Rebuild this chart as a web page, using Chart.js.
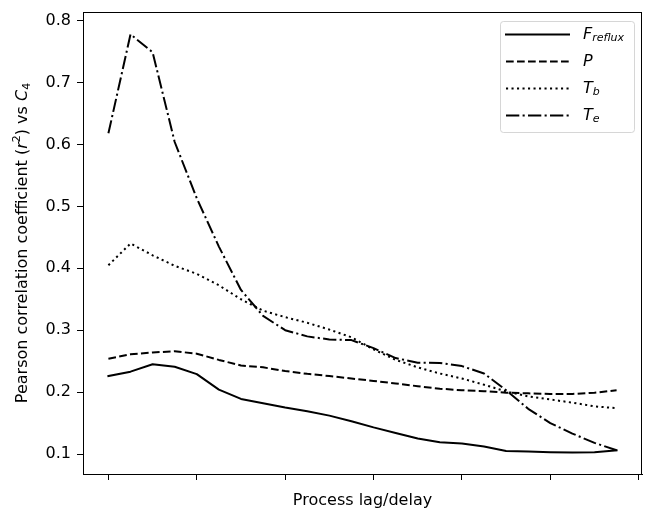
<!DOCTYPE html>
<html>
<head>
<meta charset="utf-8">
<script src="https://cdn.jsdelivr.net/npm/chart.js@4.4.1/dist/chart.umd.min.js"></script>
<style>
    body { margin: 0; background: #fff; }
    #wrap { width: 646px; height: 512px; }
</style>
</head>
<body>
<div id="wrap"><canvas id="myChart" width="646" height="512"></canvas></div>
<script>
// lag index (tick marks only, no labels in the original)
const lags = [0, 1, 2, 3, 4, 5, 6, 7, 8, 9, 10, 11, 12, 13, 14, 15, 16, 17, 18, 19, 20, 21, 22, 23];
const xTicks = [0, 4, 8, 12, 16, 20, 24];
const yTicks = [0.1, 0.2, 0.3, 0.4, 0.5, 0.6, 0.7, 0.8];

// r^2 vs C4 for each variable
const fReflux = [0.226, 0.233, 0.245, 0.241, 0.229, 0.204, 0.189, 0.182, 0.175, 0.169, 0.162, 0.153,
                 0.143, 0.134, 0.125, 0.119, 0.117, 0.112, 0.105, 0.104, 0.103, 0.1025, 0.103, 0.106];
const pres = [0.254, 0.261, 0.264, 0.266, 0.262, 0.252, 0.243, 0.240, 0.234, 0.2295, 0.226, 0.222,
              0.218, 0.214, 0.2095, 0.2055, 0.203, 0.2015, 0.199, 0.198, 0.197, 0.197, 0.199, 0.203];
const tBottom = [0.405, 0.440, 0.421, 0.404, 0.391, 0.3725, 0.350, 0.3315, 0.321, 0.312, 0.301, 0.2885,
                 0.269, 0.252, 0.240, 0.230, 0.222, 0.212, 0.201, 0.193, 0.188, 0.183, 0.177, 0.174];
const tEnd = [0.618, 0.778, 0.749, 0.604, 0.513, 0.435, 0.365, 0.323, 0.300, 0.290, 0.285, 0.284,
              0.271, 0.255, 0.2475, 0.247, 0.242, 0.230, 0.203, 0.173, 0.150, 0.133, 0.118, 0.106];

const FONT = '"DejaVu Sans", sans-serif';

function toPoints(values) {
    return values.map((v, i) => ({ x: lags[i], y: v }));
}

const series = [
    { data: fReflux, dash: [], cap: 'square', label: ['F', 'reflux'] },
    { data: pres, dash: [7.7, 3.3], cap: 'butt', label: ['P', ''] },
    { data: tBottom, dash: [2.1, 3.4], cap: 'butt', label: ['T', 'b'] },
    { data: tEnd, dash: [13.3, 3.3, 2.1, 3.3], cap: 'butt', label: ['T', 'e'] }
];

// draws frame, axis titles and the legend (math-style labels need mixed fonts)
const decorations = {
    id: 'decorations',
    afterDraw(chart) {
        const ctx = chart.ctx;
        const area = chart.chartArea;
        ctx.save();

        // frame
        ctx.strokeStyle = '#000';
        ctx.lineWidth = 1;
        ctx.setLineDash([]);
        ctx.strokeRect(Math.round(area.left) + 0.5, Math.round(area.top) + 0.5,
            Math.round(area.right - area.left) - 1, Math.round(area.bottom - area.top));

        // x title
        ctx.fillStyle = '#000';
        ctx.font = '16px ' + FONT;
        ctx.textAlign = 'center';
        ctx.textBaseline = 'middle';
        ctx.fillText('Process lag/delay', (area.left + area.right) / 2, 501);

        // y title
        const runs = [
            { t: 'Pearson correlation coefficient (', f: '16px ' + FONT, dy: 0 },
            { t: 'r', f: 'italic 16px ' + FONT, dy: 0 },
            { t: '2', f: '11px ' + FONT, dy: -6 },
            { t: ') vs ', f: '16px ' + FONT, dy: 0 },
            { t: 'C', f: 'italic 16px ' + FONT, dy: 0 },
            { t: '4', f: '11px ' + FONT, dy: 4 }
        ];
        let total = 0;
        runs.forEach(r => { ctx.font = r.f; r.w = ctx.measureText(r.t).width; total += r.w; });
        ctx.translate(23, (area.top + area.bottom) / 2);
        ctx.rotate(-Math.PI / 2);
        ctx.textAlign = 'left';
        let px = -total / 2;
        runs.forEach(r => {
            ctx.font = r.f;
            ctx.fillText(r.t, px, r.dy);
            px += r.w;
        });
        ctx.setTransform(1, 0, 0, 1, 0, 0);

        // legend
        const lx = 500.5, ly = 21.5, lw = 134, lh = 111, rad = 3;
        ctx.beginPath();
        ctx.moveTo(lx + rad, ly);
        ctx.arcTo(lx + lw, ly, lx + lw, ly + lh, rad);
        ctx.arcTo(lx + lw, ly + lh, lx, ly + lh, rad);
        ctx.arcTo(lx, ly + lh, lx, ly, rad);
        ctx.arcTo(lx, ly, lx + lw, ly, rad);
        ctx.closePath();
        ctx.fillStyle = 'rgba(255,255,255,0.8)';
        ctx.fill();
        ctx.strokeStyle = 'rgba(204,204,204,0.8)';
        ctx.stroke();

        const rows = [34.5, 61.5, 88.5, 115.5];
        series.forEach((s, k) => {
            const y = rows[k];
            ctx.beginPath();
            ctx.strokeStyle = '#000';
            ctx.lineWidth = 2;
            ctx.lineCap = s.cap;
            ctx.setLineDash(s.dash);
            ctx.moveTo(506, y);
            ctx.lineTo(569, y);
            ctx.stroke();
            ctx.setLineDash([]);

            ctx.fillStyle = '#000';
            ctx.textBaseline = 'middle';
            ctx.textAlign = 'left';
            ctx.font = 'italic 16px ' + FONT;
            ctx.fillText(s.label[0], 583, y);
            const w = ctx.measureText(s.label[0]).width;
            if (s.label[1]) {
                ctx.font = 'italic 11px ' + FONT;
                ctx.fillText(s.label[1], 583 + w, y + 4);
            }
        });
        ctx.restore();
    }
};

const ctx = document.getElementById('myChart').getContext('2d');
new Chart(ctx, {
    type: 'line',
    data: {
        datasets: series.map(s => ({
            label: s.label.join(''),
            data: toPoints(s.data),
            borderColor: '#000',
            backgroundColor: '#000',
            borderWidth: 2,
            borderDash: s.dash,
            borderCapStyle: s.cap,
            borderJoinStyle: 'round',
            pointRadius: 0,
            tension: 0,
            fill: false
        }))
    },
    options: {
        responsive: false,
        animation: false,
        devicePixelRatio: 1,
        layout: { padding: { left: 0, right: 4, top: 12, bottom: 0 } },
        plugins: {
            legend: { display: false },
            tooltip: { enabled: false }
        },
        scales: {
            x: {
                type: 'linear',
                min: -1.15,
                max: 24.15,
                afterBuildTicks: axis => { axis.ticks = xTicks.map(v => ({ value: v })); },
                afterFit: scale => { scale.height = 38; scale.paddingLeft = 0; scale.paddingRight = 0; },
                ticks: { display: false },
                grid: { drawOnChartArea: false, drawTicks: true, tickLength: 6, color: '#000', lineWidth: 1 },
                border: { display: true, color: '#000', width: 1 }
            },
            y: {
                min: 0.0677,
                max: 0.814,
                afterBuildTicks: axis => { axis.ticks = yTicks.map(v => ({ value: v })); },
                afterFit: scale => { scale.width = 83; scale.paddingTop = 0; scale.paddingBottom = 0; },
                ticks: {
                    color: '#000',
                    padding: 6,
                    font: { family: FONT, size: 16 },
                    callback: v => v.toFixed(1)
                },
                grid: { drawOnChartArea: false, drawTicks: true, tickLength: 6, color: '#000', lineWidth: 1 },
                border: { display: true, color: '#000', width: 1 }
            }
        }
    },
    plugins: [decorations]
});
</script>
</body>
</html>
